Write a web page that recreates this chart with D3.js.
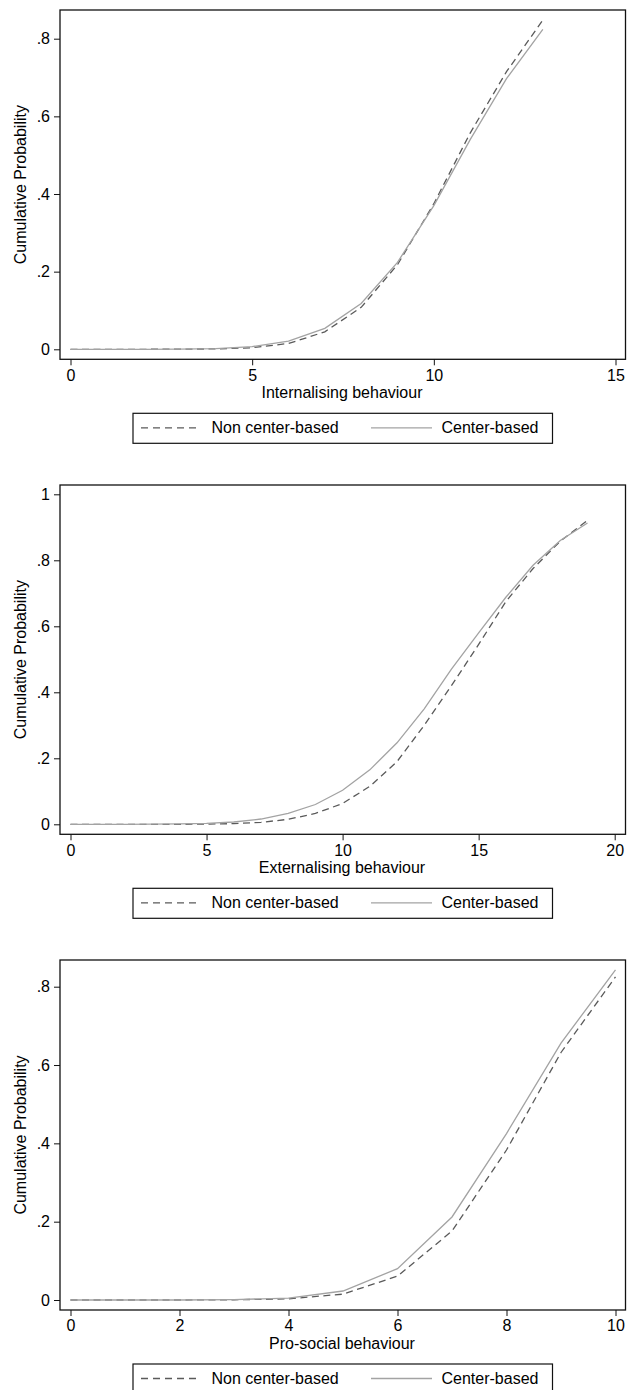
<!DOCTYPE html>
<html>
<head>
<meta charset="utf-8">
<script src="https://cdn.jsdelivr.net/npm/d3@7"></script>
<style>
  html, body { margin: 0; padding: 0; background: #fff; }
  svg { display: block; }
  text { font-family: "Liberation Sans", Arial, sans-serif; fill: #000; }
</style>
</head>
<body>
<svg id="chart" width="628" height="1390"></svg>
<script>
// ---------- data ----------
const seriesNames = ["Non center-based", "Center-based"];
const yTitle = "Cumulative Probability";

const intX = [0,1,2,3,4,5,6,7,8,9,10,11,12,13];
const intNonCenter = [0,0,0,0.0005,0.001,0.004,0.015,0.045,0.108,0.218,0.375,0.557,0.715,0.848];
const intCenter    = [0,0,0,0.0005,0.0015,0.007,0.021,0.054,0.118,0.224,0.370,0.540,0.697,0.824];
const intXTicks = [0,5,10,15];
const intYTicks = [0,0.2,0.4,0.6,0.8];
const intTitle = "Internalising behaviour";

const extX = [0,1,2,3,4,5,6,7,8,9,10,11,12,13,14,15,16,17,18,19];
const extNonCenter = [0,0,0,0,0,0.0005,0.002,0.006,0.015,0.033,0.063,0.115,0.19,0.30,0.42,0.545,0.675,0.775,0.858,0.921];
const extCenter    = [0,0,0,0.0005,0.001,0.003,0.007,0.016,0.033,0.06,0.103,0.165,0.247,0.35,0.47,0.58,0.688,0.785,0.86,0.913];
const extXTicks = [0,5,10,15,20];
const extYTicks = [0,0.2,0.4,0.6,0.8,1];
const extTitle = "Externalising behaviour";

const proX = [0,1,2,3,4,5,6,7,8,9,10];
const proNonCenter = [0,0,0,0.0005,0.003,0.015,0.061,0.176,0.383,0.632,0.825];
const proCenter    = [0,0,0,0.001,0.005,0.023,0.08,0.212,0.425,0.656,0.843];
const proXTicks = [0,2,4,6,8,10];
const proYTicks = [0,0.2,0.4,0.6,0.8];
const proTitle = "Pro-social behaviour";

// ---------- layout ----------
const panels = [
  { x: intX, a: intNonCenter, b: intCenter, xt: intXTicks, yt: intYTicks, title: intTitle,
    top: 10, bottom: 359.3, y0: 349.3, yTop: 38.7, xr: 615.5 },
  { x: extX, a: extNonCenter, b: extCenter, xt: extXTicks, yt: extYTicks, title: extTitle,
    top: 485, bottom: 834.3, y0: 824.3, yTop: 494.3, xr: 614.7 },
  { x: proX, a: proNonCenter, b: proCenter, xt: proXTicks, yt: proYTicks, title: proTitle,
    top: 960, bottom: 1310, y0: 1300, yTop: 986.7, xr: 615.5 }
];

const frameL = 60, frameR = 625.5, x0px = 70.5;
const dashColor = "#5a5a5a", solidColor = "#a3a3a3";
const svg = d3.select("#chart");
svg.append("rect").attr("width", 628).attr("height", 1390).attr("fill", "#fff");

const yFmt = d => d === 0 ? "0" : (d === 1 ? "1" : d3.format(".1f")(d).replace(/^0/, ""));

panels.forEach(p => {
  const g = svg.append("g");
  const xs = d3.scaleLinear().domain([0, d3.max(p.xt)]).range([x0px, p.xr]);
  const ys = d3.scaleLinear().domain([0, d3.max(p.yt)]).range([p.y0, p.yTop]);

  // lines (non center-based first, center-based on top)
  const line = vals => d3.line().x((d, i) => xs(p.x[i])).y(d => ys(d))(vals);
  g.append("path").attr("d", line(p.a)).attr("fill", "none")
    .attr("stroke", dashColor).attr("stroke-width", 1.3).attr("stroke-dasharray", "7,4.5");
  g.append("path").attr("d", line(p.b)).attr("fill", "none")
    .attr("stroke", solidColor).attr("stroke-width", 1.3);

  // frame
  g.append("rect").attr("x", frameL).attr("y", p.top)
    .attr("width", frameR - frameL).attr("height", p.bottom - p.top)
    .attr("fill", "none").attr("stroke", "#111").attr("stroke-width", 1.3);

  // y axis
  const ya = g.append("g").attr("transform", `translate(${frameL},0)`)
    .call(d3.axisLeft(ys).tickValues(p.yt).tickFormat(yFmt).tickSize(6).tickPadding(4));
  ya.select(".domain").remove();
  ya.selectAll("line").attr("stroke", "#111").attr("stroke-width", 1);
  ya.selectAll("text").style("font-size", "16px").attr("fill", "#000");

  // x axis
  const xa = g.append("g").attr("transform", `translate(0,${p.bottom})`)
    .call(d3.axisBottom(xs).tickValues(p.xt).tickFormat(d3.format("d")).tickSize(6).tickPadding(4));
  xa.select(".domain").remove();
  xa.selectAll("line").attr("stroke", "#111").attr("stroke-width", 1);
  xa.selectAll("text").style("font-size", "16px").attr("fill", "#000");

  // titles
  g.append("text").attr("x", 342).attr("y", p.bottom + 39)
    .attr("text-anchor", "middle").style("font-size", "16px").text(p.title);
  g.append("text")
    .attr("transform", `translate(20,${(p.top + p.bottom) / 2}) rotate(-90)`)
    .attr("text-anchor", "middle").attr("dy", "0.35em")
    .style("font-size", "16px").text(yTitle);

  // legend
  const lt = p.bottom + 54;
  const lg = g.append("g");
  lg.append("rect").attr("x", 133).attr("y", lt).attr("width", 419.5).attr("height", 30)
    .attr("fill", "#fff").attr("stroke", "#111").attr("stroke-width", 1.2);
  lg.append("line").attr("x1", 141).attr("x2", 201).attr("y1", lt + 14.5).attr("y2", lt + 14.5)
    .attr("stroke", dashColor).attr("stroke-width", 1.3).attr("stroke-dasharray", "7,5");
  lg.append("text").attr("x", 211.5).attr("y", lt + 20).style("font-size", "16px").text(seriesNames[0]);
  lg.append("line").attr("x1", 371).attr("x2", 432).attr("y1", lt + 14.5).attr("y2", lt + 14.5)
    .attr("stroke", solidColor).attr("stroke-width", 1.3);
  lg.append("text").attr("x", 441.5).attr("y", lt + 20).style("font-size", "16px").text(seriesNames[1]);
});
</script>
</body>
</html>
